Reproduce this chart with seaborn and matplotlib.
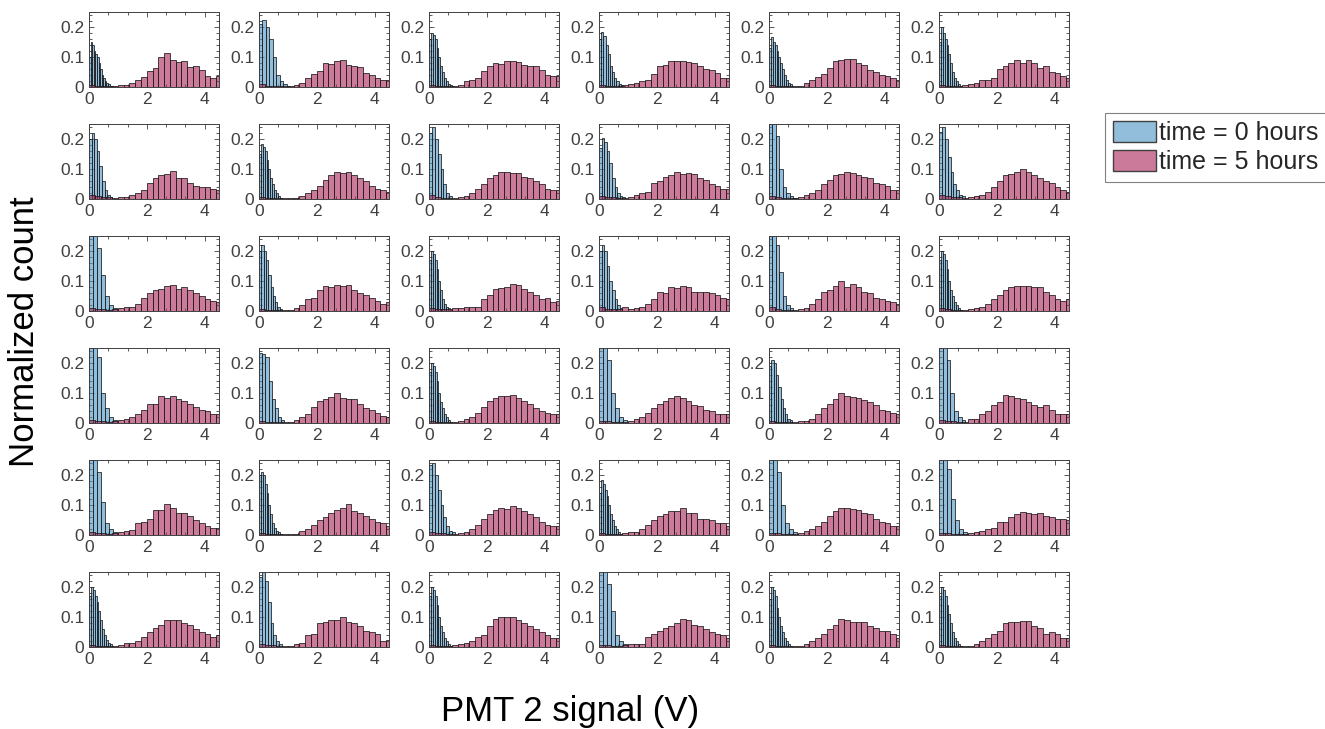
import numpy as np
import pandas as pd
import matplotlib
matplotlib.use("Agg")
import matplotlib.pyplot as plt
from matplotlib.patches import Patch
from matplotlib.ticker import AutoMinorLocator
import seaborn as sns

# ---------------------------------------------------------------------------
# Normalized histograms of PMT 2 signal, 6 x 6 grid of measurements.
# t0_* : time = 0 hours (bin heights, per-panel bin width, bins start at 0 V)
# t5_* : time = 5 hours (bin heights, 0.2 V bins from 0 to 4.6 V)
# ---------------------------------------------------------------------------
t0_width_row1 = [0.055, 0.12, 0.065, 0.075, 0.065, 0.065]
t0_row1 = [
    [0.10, 0.15, 0.14, 0.12, 0.11, 0.10, 0.08, 0.06, 0.04, 0.03, 0.02, 0.015, 0.01, 0.005, 0.003],
    [0.21, 0.225, 0.20, 0.16, 0.10, 0.04, 0.02, 0.01, 0.005],
    [0.16, 0.18, 0.175, 0.16, 0.13, 0.10, 0.07, 0.05, 0.03, 0.02, 0.01, 0.008, 0.005],
    [0.16, 0.185, 0.17, 0.14, 0.11, 0.07, 0.05, 0.03, 0.02, 0.01, 0.008, 0.005],
    [0.13, 0.165, 0.15, 0.14, 0.12, 0.10, 0.08, 0.06, 0.04, 0.025, 0.015, 0.01, 0.005],
    [0.15, 0.20, 0.18, 0.16, 0.14, 0.11, 0.08, 0.05, 0.03, 0.02, 0.01, 0.005],
]
t5_row1 = [
    [0.006, 0.005, 0.004, 0.004, 0.004, 0.006, 0.008, 0.012, 0.024, 0.035, 0.053, 0.065, 0.10, 0.112, 0.09, 0.085, 0.088, 0.065, 0.07, 0.055, 0.035, 0.03, 0.035],
    [0.01, 0.005, 0.004, 0.004, 0.004, 0.005, 0.008, 0.015, 0.03, 0.045, 0.055, 0.08, 0.078, 0.086, 0.09, 0.075, 0.07, 0.068, 0.045, 0.04, 0.03, 0.025, 0.025],
    [0.008, 0.005, 0.004, 0.004, 0.005, 0.008, 0.02, 0.025, 0.03, 0.055, 0.07, 0.08, 0.078, 0.085, 0.088, 0.083, 0.075, 0.07, 0.07, 0.055, 0.04, 0.035, 0.037],
    [0.008, 0.005, 0.004, 0.004, 0.006, 0.01, 0.012, 0.02, 0.025, 0.045, 0.07, 0.075, 0.085, 0.087, 0.086, 0.085, 0.08, 0.07, 0.06, 0.055, 0.045, 0.03, 0.03],
    [0.008, 0.005, 0.004, 0.004, 0.004, 0.005, 0.012, 0.025, 0.035, 0.045, 0.065, 0.085, 0.09, 0.095, 0.095, 0.08, 0.075, 0.055, 0.05, 0.04, 0.035, 0.03, 0.025],
    [0.008, 0.005, 0.004, 0.005, 0.008, 0.01, 0.012, 0.025, 0.025, 0.03, 0.06, 0.07, 0.08, 0.09, 0.08, 0.09, 0.08, 0.065, 0.07, 0.05, 0.045, 0.035, 0.03],
]

t0_width_row2 = [0.09, 0.065, 0.10, 0.09, 0.12, 0.10]
t0_row2 = [
    [0.20, 0.22, 0.20, 0.16, 0.11, 0.06, 0.03, 0.015, 0.008],
    [0.15, 0.185, 0.175, 0.16, 0.13, 0.10, 0.07, 0.05, 0.03, 0.02, 0.01, 0.005],
    [0.22, 0.24, 0.20, 0.15, 0.10, 0.05, 0.02, 0.01],
    [0.17, 0.205, 0.19, 0.16, 0.12, 0.07, 0.04, 0.02, 0.01, 0.008],
    [0.30, 0.30, 0.21, 0.10, 0.04, 0.02, 0.01, 0.005],
    [0.225, 0.24, 0.20, 0.14, 0.09, 0.05, 0.03, 0.015, 0.01],
]
t5_row2 = [
    [0.012, 0.01, 0.008, 0.006, 0.005, 0.008, 0.008, 0.015, 0.02, 0.03, 0.055, 0.07, 0.08, 0.085, 0.095, 0.07, 0.07, 0.055, 0.045, 0.04, 0.04, 0.035, 0.03],
    [0.008, 0.005, 0.004, 0.004, 0.004, 0.004, 0.005, 0.01, 0.02, 0.03, 0.045, 0.065, 0.08, 0.09, 0.087, 0.09, 0.08, 0.07, 0.06, 0.045, 0.035, 0.03, 0.025],
    [0.012, 0.008, 0.005, 0.004, 0.005, 0.008, 0.01, 0.02, 0.035, 0.05, 0.07, 0.08, 0.09, 0.09, 0.088, 0.087, 0.075, 0.07, 0.06, 0.05, 0.035, 0.03, 0.03],
    [0.01, 0.008, 0.006, 0.005, 0.005, 0.008, 0.012, 0.02, 0.025, 0.055, 0.06, 0.075, 0.08, 0.09, 0.085, 0.088, 0.085, 0.07, 0.065, 0.05, 0.045, 0.035, 0.035],
    [0.01, 0.006, 0.004, 0.004, 0.004, 0.008, 0.012, 0.02, 0.03, 0.05, 0.065, 0.08, 0.085, 0.09, 0.088, 0.08, 0.075, 0.07, 0.055, 0.05, 0.045, 0.03, 0.03],
    [0.012, 0.01, 0.008, 0.006, 0.005, 0.008, 0.01, 0.015, 0.025, 0.04, 0.06, 0.08, 0.085, 0.09, 0.10, 0.09, 0.08, 0.07, 0.06, 0.055, 0.04, 0.03, 0.025],
]

t0_width_row3 = [0.14, 0.08, 0.065, 0.09, 0.12, 0.065]
t0_row3 = [
    [0.30, 0.30, 0.21, 0.12, 0.05, 0.02, 0.01],
    [0.20, 0.22, 0.20, 0.17, 0.12, 0.08, 0.05, 0.03, 0.015, 0.008],
    [0.17, 0.20, 0.19, 0.17, 0.14, 0.10, 0.07, 0.04, 0.025, 0.015, 0.01, 0.005],
    [0.20, 0.22, 0.20, 0.15, 0.10, 0.07, 0.04, 0.02, 0.01],
    [0.30, 0.30, 0.22, 0.13, 0.05, 0.02, 0.01],
    [0.17, 0.20, 0.19, 0.17, 0.14, 0.10, 0.07, 0.05, 0.03, 0.02, 0.01, 0.005],
]
t5_row3 = [
    [0.01, 0.008, 0.006, 0.005, 0.006, 0.01, 0.012, 0.012, 0.025, 0.045, 0.06, 0.07, 0.075, 0.085, 0.087, 0.075, 0.08, 0.07, 0.06, 0.05, 0.04, 0.035, 0.03],
    [0.008, 0.005, 0.004, 0.004, 0.004, 0.005, 0.01, 0.02, 0.04, 0.045, 0.07, 0.085, 0.08, 0.088, 0.085, 0.087, 0.07, 0.06, 0.055, 0.045, 0.035, 0.025, 0.03],
    [0.01, 0.008, 0.006, 0.008, 0.01, 0.01, 0.012, 0.012, 0.015, 0.04, 0.055, 0.075, 0.078, 0.08, 0.09, 0.088, 0.075, 0.065, 0.055, 0.04, 0.045, 0.03, 0.035],
    [0.015, 0.008, 0.006, 0.008, 0.012, 0.008, 0.01, 0.015, 0.025, 0.04, 0.065, 0.06, 0.08, 0.077, 0.083, 0.08, 0.065, 0.065, 0.065, 0.06, 0.055, 0.045, 0.04],
    [0.015, 0.008, 0.005, 0.004, 0.005, 0.008, 0.01, 0.025, 0.04, 0.065, 0.07, 0.085, 0.10, 0.08, 0.09, 0.08, 0.065, 0.06, 0.045, 0.04, 0.035, 0.03, 0.025],
    [0.01, 0.006, 0.005, 0.004, 0.005, 0.008, 0.01, 0.015, 0.025, 0.04, 0.055, 0.07, 0.08, 0.082, 0.082, 0.085, 0.08, 0.08, 0.065, 0.055, 0.04, 0.035, 0.04],
]

t0_width_row4 = [0.14, 0.11, 0.065, 0.14, 0.08, 0.13]
t0_row4 = [
    [0.30, 0.30, 0.22, 0.10, 0.05, 0.02, 0.01],
    [0.235, 0.23, 0.22, 0.14, 0.08, 0.05, 0.02, 0.01],
    [0.17, 0.20, 0.19, 0.17, 0.14, 0.10, 0.07, 0.05, 0.03, 0.02, 0.01, 0.005],
    [0.30, 0.30, 0.21, 0.10, 0.05, 0.02, 0.01],
    [0.19, 0.21, 0.20, 0.16, 0.12, 0.08, 0.05, 0.03, 0.015, 0.01],
    [0.30, 0.30, 0.21, 0.10, 0.04, 0.02, 0.01],
]
t5_row4 = [
    [0.01, 0.008, 0.006, 0.005, 0.006, 0.01, 0.015, 0.02, 0.03, 0.045, 0.065, 0.063, 0.09, 0.082, 0.09, 0.08, 0.072, 0.065, 0.055, 0.045, 0.04, 0.03, 0.03],
    [0.008, 0.005, 0.004, 0.004, 0.004, 0.005, 0.01, 0.02, 0.03, 0.055, 0.075, 0.08, 0.088, 0.10, 0.085, 0.08, 0.08, 0.065, 0.05, 0.045, 0.035, 0.025, 0.02],
    [0.008, 0.005, 0.004, 0.004, 0.005, 0.008, 0.012, 0.02, 0.035, 0.055, 0.075, 0.085, 0.09, 0.09, 0.093, 0.085, 0.075, 0.065, 0.05, 0.04, 0.035, 0.03, 0.03],
    [0.008, 0.006, 0.005, 0.005, 0.005, 0.008, 0.012, 0.02, 0.035, 0.05, 0.065, 0.075, 0.085, 0.09, 0.085, 0.075, 0.06, 0.058, 0.045, 0.04, 0.03, 0.03, 0.03],
    [0.008, 0.005, 0.004, 0.004, 0.004, 0.006, 0.008, 0.015, 0.03, 0.05, 0.065, 0.08, 0.10, 0.09, 0.088, 0.085, 0.077, 0.07, 0.06, 0.045, 0.04, 0.035, 0.03],
    [0.01, 0.008, 0.006, 0.005, 0.005, 0.012, 0.012, 0.03, 0.04, 0.06, 0.07, 0.095, 0.09, 0.085, 0.08, 0.07, 0.06, 0.055, 0.06, 0.045, 0.03, 0.03, 0.03],
]

t0_width_row5 = [0.14, 0.065, 0.10, 0.065, 0.14, 0.14]
t0_row5 = [
    [0.30, 0.30, 0.21, 0.11, 0.04, 0.02, 0.01],
    [0.20, 0.21, 0.20, 0.17, 0.14, 0.10, 0.07, 0.04, 0.025, 0.015, 0.01, 0.005],
    [0.235, 0.24, 0.20, 0.15, 0.10, 0.06, 0.03, 0.015, 0.01],
    [0.14, 0.185, 0.17, 0.15, 0.13, 0.10, 0.07, 0.05, 0.03, 0.02, 0.01, 0.005],
    [0.30, 0.30, 0.21, 0.10, 0.04, 0.02, 0.01],
    [0.30, 0.30, 0.22, 0.12, 0.05, 0.02, 0.01],
]
t5_row5 = [
    [0.01, 0.008, 0.006, 0.005, 0.006, 0.01, 0.015, 0.018, 0.04, 0.045, 0.055, 0.085, 0.082, 0.102, 0.09, 0.075, 0.075, 0.065, 0.05, 0.04, 0.03, 0.025, 0.025],
    [0.008, 0.005, 0.004, 0.004, 0.004, 0.004, 0.005, 0.012, 0.02, 0.035, 0.05, 0.06, 0.075, 0.085, 0.09, 0.103, 0.08, 0.075, 0.065, 0.055, 0.045, 0.04, 0.03],
    [0.01, 0.008, 0.006, 0.005, 0.005, 0.006, 0.01, 0.02, 0.035, 0.055, 0.07, 0.085, 0.09, 0.088, 0.097, 0.09, 0.08, 0.07, 0.06, 0.045, 0.035, 0.03, 0.03],
    [0.008, 0.005, 0.004, 0.004, 0.006, 0.01, 0.01, 0.02, 0.035, 0.05, 0.065, 0.07, 0.08, 0.08, 0.09, 0.075, 0.075, 0.055, 0.055, 0.05, 0.04, 0.04, 0.03],
    [0.008, 0.006, 0.004, 0.004, 0.004, 0.008, 0.012, 0.02, 0.03, 0.045, 0.065, 0.08, 0.09, 0.09, 0.087, 0.083, 0.075, 0.07, 0.055, 0.045, 0.04, 0.03, 0.03],
    [0.008, 0.006, 0.004, 0.004, 0.005, 0.008, 0.01, 0.012, 0.02, 0.025, 0.045, 0.045, 0.06, 0.07, 0.077, 0.075, 0.07, 0.075, 0.065, 0.06, 0.055, 0.055, 0.05],
]

t0_width_row6 = [0.065, 0.10, 0.065, 0.14, 0.065, 0.065]
t0_row6 = [
    [0.17, 0.20, 0.19, 0.17, 0.15, 0.12, 0.09, 0.06, 0.04, 0.025, 0.015, 0.01, 0.005],
    [0.235, 0.25, 0.22, 0.15, 0.08, 0.04, 0.02, 0.01],
    [0.17, 0.20, 0.19, 0.17, 0.14, 0.10, 0.07, 0.05, 0.03, 0.02, 0.01, 0.005],
    [0.30, 0.30, 0.21, 0.12, 0.04, 0.02, 0.01],
    [0.16, 0.20, 0.19, 0.17, 0.13, 0.10, 0.07, 0.05, 0.03, 0.02, 0.01, 0.005],
    [0.17, 0.20, 0.19, 0.17, 0.14, 0.11, 0.08, 0.05, 0.03, 0.02, 0.01, 0.005],
]
t5_row6 = [
    [0.008, 0.005, 0.004, 0.004, 0.005, 0.008, 0.015, 0.015, 0.02, 0.035, 0.05, 0.065, 0.075, 0.09, 0.09, 0.09, 0.08, 0.075, 0.06, 0.05, 0.045, 0.035, 0.04],
    [0.01, 0.008, 0.006, 0.005, 0.004, 0.005, 0.01, 0.015, 0.04, 0.045, 0.08, 0.085, 0.09, 0.09, 0.10, 0.085, 0.08, 0.07, 0.055, 0.05, 0.045, 0.02, 0.025],
    [0.008, 0.005, 0.004, 0.004, 0.006, 0.01, 0.015, 0.02, 0.035, 0.04, 0.07, 0.095, 0.10, 0.10, 0.10, 0.09, 0.08, 0.07, 0.06, 0.05, 0.04, 0.03, 0.03],
    [0.008, 0.006, 0.005, 0.005, 0.006, 0.01, 0.01, 0.01, 0.035, 0.045, 0.055, 0.065, 0.07, 0.08, 0.095, 0.09, 0.075, 0.07, 0.06, 0.05, 0.045, 0.04, 0.03],
    [0.008, 0.005, 0.004, 0.004, 0.004, 0.005, 0.01, 0.02, 0.03, 0.045, 0.06, 0.075, 0.095, 0.09, 0.085, 0.083, 0.085, 0.07, 0.065, 0.055, 0.055, 0.045, 0.03],
    [0.008, 0.005, 0.004, 0.004, 0.004, 0.005, 0.01, 0.02, 0.03, 0.045, 0.055, 0.08, 0.085, 0.085, 0.088, 0.088, 0.07, 0.065, 0.045, 0.05, 0.045, 0.03, 0.03],
]

t5_bin_width = 0.2
legend_labels = ["time = 0 hours", "time = 5 hours"]
x_ticks = [0, 2, 4]
y_ticks = [0, 0.1, 0.2]
y_tick_labels = ["0", "0.1", "0.2"]

t0_rows = [t0_row1, t0_row2, t0_row3, t0_row4, t0_row5, t0_row6]
t0_widths = [t0_width_row1, t0_width_row2, t0_width_row3,
             t0_width_row4, t0_width_row5, t0_width_row6]
t5_rows = [t5_row1, t5_row2, t5_row3, t5_row4, t5_row5, t5_row6]

# ---------------------------------------------------------------------------
sns.set_style("ticks")
plt.rcParams["font.family"] = ["Liberation Sans", "DejaVu Sans"]

BLUE = "#4993C5"
PINK = "#AA2157"
ALPHA = 0.6
AXIS_GRAY = "#404040"
BAR_EDGE = "#1a1a1a"

W, H = 1325, 729
fig = plt.figure(figsize=(W / 100, H / 100), dpi=100)

X0, DX, PW = 89, 170, 130   # panel left, column pitch, panel width (px)
Y0, DY, PH = 12, 112, 75    # panel top, row pitch, panel height (px)


def draw_hist(ax, heights, width, color):
    edges = np.arange(len(heights) + 1) * width
    frame = pd.DataFrame({"signal": edges[:-1] + width / 2,
                          "fraction": np.asarray(heights, dtype=float)})
    sns.histplot(data=frame, x="signal", weights="fraction",
                 bins=edges.tolist(), stat="count", color=color, alpha=ALPHA,
                 edgecolor=BAR_EDGE, linewidth=0.55, ax=ax)


for r in range(6):
    for c in range(6):
        left = (X0 + DX * c) / W
        bottom = 1 - (Y0 + DY * r + PH) / H
        ax = fig.add_axes([left, bottom, PW / W, PH / H])

        draw_hist(ax, t0_rows[r][c], t0_widths[r][c], BLUE)
        draw_hist(ax, t5_rows[r][c], t5_bin_width, PINK)

        ax.set_xlim(0, 4.5)
        ax.set_ylim(0, 0.25)
        ax.set_xticks(x_ticks)
        ax.set_yticks(y_ticks)
        ax.set_yticklabels(y_tick_labels)
        ax.xaxis.set_minor_locator(AutoMinorLocator(3))
        ax.yaxis.set_minor_locator(AutoMinorLocator(5))
        ax.set_xlabel("")
        ax.set_ylabel("")
        ax.tick_params(which="both", direction="in", top=True, right=True,
                       color=AXIS_GRAY, width=0.6)
        ax.tick_params(which="major", length=3.5, labelsize=12.5,
                       labelcolor=AXIS_GRAY, pad=3.5)
        ax.tick_params(which="minor", length=2)
        for sp in ax.spines.values():
            sp.set_visible(True)
            sp.set_color(AXIS_GRAY)
            sp.set_linewidth(0.7)

fig.text(25 / W, 1 - 332 / H, "Normalized count", rotation=90,
         fontsize=25, ha="center", va="center", color="black")
fig.text(570 / W, 1 - 712 / H, "PMT 2 signal (V)",
         fontsize=25, ha="center", va="center", color="black")

handles = [
    Patch(facecolor=matplotlib.colors.to_rgba(BLUE, ALPHA), edgecolor="#404040", linewidth=1.0),
    Patch(facecolor=matplotlib.colors.to_rgba(PINK, ALPHA), edgecolor="#404040", linewidth=1.0),
]
leg = fig.legend(handles, legend_labels, loc="upper left",
                 bbox_to_anchor=(1105 / W, 1 - 113 / H),
                 fontsize=18, frameon=True, fancybox=False,
                 edgecolor="#606060", handlelength=1.75, handleheight=0.95,
                 handletextpad=0.12, borderpad=0.3, labelspacing=0.2,
                 borderaxespad=0)
leg.get_frame().set_linewidth(0.8)

fig.savefig("out.png", dpi=100)
